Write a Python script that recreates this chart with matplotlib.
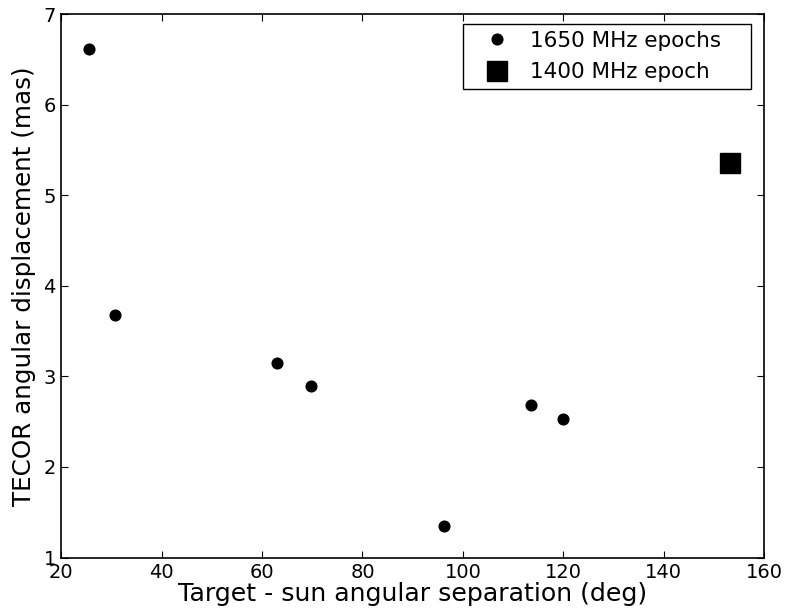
import matplotlib
matplotlib.use("Agg")
import matplotlib.pyplot as plt

sep_1650 = [25.6, 30.6, 62.9, 69.7, 96.2, 113.5, 119.9]
disp_1650 = [6.62, 3.68, 3.15, 2.89, 1.35, 2.68, 2.53]
sep_1400 = [153.3]
disp_1400 = [5.36]

fig = plt.figure(figsize=(7.86, 6.14), dpi=100)
ax = fig.add_axes([0.078, 0.092, 0.894, 0.885])

ax.plot(sep_1650, disp_1650, 'o', color='black', markersize=7.7, linestyle='none',
        label='1650 MHz epochs')
ax.plot(sep_1400, disp_1400, 's', color='black', markersize=14.5, linestyle='none',
        label='1400 MHz epoch')

ax.set_xlim(20, 160)
ax.set_ylim(1, 7)
ax.set_xticks([20, 40, 60, 80, 100, 120, 140, 160])
ax.set_yticks([1, 2, 3, 4, 5, 6, 7])
ax.tick_params(direction='in', top=True, right=True, length=5, width=0.8,
               labelsize=14, pad=4)
for s in ax.spines.values():
    s.set_linewidth(1.2)

ax.set_xlabel('Target - sun angular separation (deg)', fontsize=18.2, labelpad=0)
ax.set_ylabel('TECOR angular displacement (mas)', fontsize=17.7, labelpad=5)

leg = ax.legend(loc='upper left', bbox_to_anchor=(0.571, 0.0, 0.410, 0.9816),
                mode='expand', borderaxespad=0, numpoints=1, fontsize=15.5,
                fancybox=False, framealpha=1, edgecolor='black',
                borderpad=0.3, handlelength=2.6, handletextpad=0.25,
                labelspacing=0.55)
leg.get_frame().set_linewidth(1.0)

fig.savefig('out.png', dpi=100)
